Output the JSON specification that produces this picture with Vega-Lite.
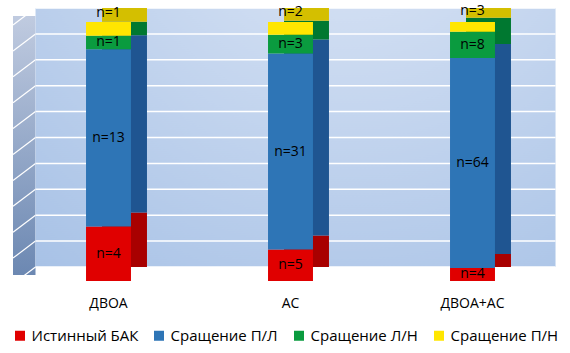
{
  "$schema": "https://vega.github.io/schema/vega-lite/v6.json",
  "width": 546,
  "height": 259,
  "autosize": "none",
  "padding": {"left": 17.5, "top": 22, "right": 6.5, "bottom": 72},
  "background": "white",
  "view": {"stroke": null},
  "config": {
    "font": "Open Sans",
    "axisX": {"title": null, "labelAngle": 0, "domain": false, "ticks": false, "tickSize": 0, "labelPadding": 15, "labelFontSize": 14, "labelColor": "#000000", "grid": false},
    "axisY": {"domain": false, "ticks": false, "labels": false, "grid": false, "title": null}
  },
  "datasets": {
    "counts": [
      {"g": "ДВОА", "cat": "Истинный БАК", "k": 1, "n": 4, "label": "n=4"},
      {"g": "ДВОА", "cat": "Сращение П/Л", "k": 2, "n": 13, "label": "n=13"},
      {"g": "ДВОА", "cat": "Сращение Л/Н", "k": 3, "n": 1, "label": "n=1"},
      {"g": "ДВОА", "cat": "Сращение П/Н", "k": 4, "n": 1, "label": "n=1"},
      {"g": "АС", "cat": "Истинный БАК", "k": 1, "n": 5, "label": "n=5"},
      {"g": "АС", "cat": "Сращение П/Л", "k": 2, "n": 31, "label": "n=31"},
      {"g": "АС", "cat": "Сращение Л/Н", "k": 3, "n": 3, "label": "n=3"},
      {"g": "АС", "cat": "Сращение П/Н", "k": 4, "n": 2, "label": "n=2"},
      {"g": "ДВОА+АС", "cat": "Истинный БАК", "k": 1, "n": 4, "label": "n=4"},
      {"g": "ДВОА+АС", "cat": "Сращение П/Л", "k": 2, "n": 64, "label": "n=64"},
      {"g": "ДВОА+АС", "cat": "Сращение Л/Н", "k": 3, "n": 8, "label": "n=8"},
      {"g": "ДВОА+АС", "cat": "Сращение П/Н", "k": 4, "n": 3, "label": "n=3"}
    ],
    "wall": [{"lo": 0, "hi": 1}],
    "grid": [{"v": 0}, {"v": 0.1}, {"v": 0.2}, {"v": 0.3}, {"v": 0.4}, {"v": 0.5}, {"v": 0.6}, {"v": 0.7}, {"v": 0.8}, {"v": 0.9}, {"v": 1}]
  },
  "layer": [
    {
      "data": {"name": "wall"},
      "mark": {"type": "rect", "xOffset": -4.5, "x2Offset": 18, "yOffset": -6, "y2Offset": -6,
        "color": {"gradient": "linear", "x1": 0, "y1": 0, "x2": 0, "y2": 1,
          "stops": [{"offset": 0, "color": "#C0CBE0"}, {"offset": 1, "color": "#6C88B2"}]}},
      "encoding": {
        "x": {"value": 0},
        "x2": {"value": 0},
        "y": {"field": "hi", "type": "quantitative", "scale": {"domain": [0, 1], "nice": false}, "axis": null},
        "y2": {"field": "lo"}
      }
    },
    {
      "data": {"name": "grid"},
      "mark": {"type": "rule", "color": "#FFFFFF", "strokeWidth": 1.2, "xOffset": -4.5, "x2Offset": 18, "yOffset": 3, "y2Offset": -14},
      "encoding": {
        "x": {"value": 0},
        "x2": {"value": 0},
        "y": {"field": "v", "type": "quantitative"},
        "y2": {"field": "v"}
      }
    },
    {
      "data": {"name": "wall"},
      "mark": {"type": "rect", "xOffset": 18, "x2Offset": -8, "yOffset": -14, "y2Offset": -14,
        "color": {"gradient": "radial", "x1": 0.6, "y1": 0, "r1": 0, "x2": 0.6, "y2": 0, "r2": 0.95,
          "stops": [{"offset": 0, "color": "#DEE7F6"}, {"offset": 1, "color": "#A8C2E6"}]}},
      "encoding": {
        "x": {"value": 0},
        "x2": {"value": "width"},
        "y": {"field": "hi", "type": "quantitative"},
        "y2": {"field": "lo"}
      }
    },
    {
      "data": {"name": "grid"},
      "mark": {"type": "rule", "color": "#FFFFFF", "strokeWidth": 1.5, "xOffset": 18, "x2Offset": -8, "yOffset": -14, "y2Offset": -14},
      "encoding": {
        "x": {"value": 0},
        "x2": {"value": "width"},
        "y": {"field": "v", "type": "quantitative"}
      }
    },
    {
      "data": {"name": "counts"},
      "mark": {"type": "bar", "xOffset": 16, "x2Offset": 16, "yOffset": -14, "y2Offset": -14},
      "encoding": {
        "x": {"field": "g", "type": "nominal", "sort": ["ДВОА", "АС", "ДВОА+АС"], "scale": {"paddingInner": 0.753, "paddingOuter": 0.3765}},
        "y": {"field": "n", "type": "quantitative", "stack": "normalize"},
        "order": {"field": "k", "type": "quantitative"},
        "color": {"field": "cat", "type": "nominal", "legend": null,
          "scale": {"domain": ["Истинный БАК", "Сращение П/Л", "Сращение Л/Н", "Сращение П/Н"], "range": ["#A80000", "#1F5591", "#007830", "#D4BF00"]}}
      }
    },
    {
      "data": {"name": "counts"},
      "mark": {"type": "bar"},
      "encoding": {
        "x": {"field": "g", "type": "nominal", "sort": ["ДВОА", "АС", "ДВОА+АС"]},
        "y": {"field": "n", "type": "quantitative", "stack": "normalize"},
        "order": {"field": "k", "type": "quantitative"},
        "color": {"field": "cat", "type": "nominal",
          "scale": {"domain": ["Истинный БАК", "Сращение П/Л", "Сращение Л/Н", "Сращение П/Н"], "range": ["#E00000", "#2E75B6", "#0A9B3F", "#FFE600"]},
          "legend": {"orient": "none", "legendX": -5, "legendY": 306, "direction": "horizontal", "title": null, "symbolType": "square", "symbolSize": 100, "symbolStrokeWidth": 0, "labelFontSize": 15, "labelColor": "#000000", "columnPadding": 13, "labelLimit": 300}}
      }
    },
    {
      "data": {"name": "counts"},
      "mark": {"type": "text", "fontSize": 14, "color": "#000000"},
      "encoding": {
        "x": {"field": "g", "type": "nominal", "sort": ["ДВОА", "АС", "ДВОА+АС"]},
        "y": {"field": "n", "type": "quantitative", "stack": "normalize", "bandPosition": 0.5},
        "order": {"field": "k", "type": "quantitative"},
        "text": {"condition": {"test": "datum.cat === 'Сращение П/Н'", "value": ""}, "field": "label"}
      }
    },
    {
      "data": {"name": "counts"},
      "mark": {"type": "text", "fontSize": 14, "color": "#000000", "dy": -16},
      "encoding": {
        "x": {"field": "g", "type": "nominal", "sort": ["ДВОА", "АС", "ДВОА+АС"]},
        "y": {"field": "n", "type": "quantitative", "stack": "normalize", "bandPosition": 0.5},
        "order": {"field": "k", "type": "quantitative"},
        "text": {"condition": {"test": "datum.cat !== 'Сращение П/Н'", "value": ""}, "field": "label"}
      }
    }
  ],
  "resolve": {"scale": {"color": "independent"}}
}
